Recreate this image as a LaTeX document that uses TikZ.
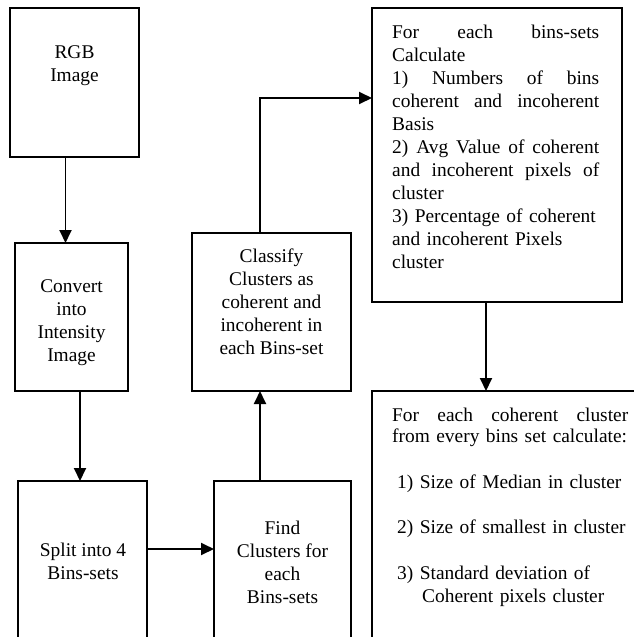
\documentclass[tikz,border=0pt]{standalone}
\usepackage{fontspec}
\setmainfont{Liberation Serif}
\usetikzlibrary{arrows.meta}
\newcommand{\fsz}{\fontsize{19.4}{23}\selectfont}
\newcommand{\jl}[2]{\leavevmode\makebox[#1][l]{#2}}
\begin{document}
\begin{tikzpicture}[x=1pt,y=-1pt,
  box/.style={draw, line width=1.9pt, inner sep=0pt, outer sep=0pt},
  txt/.style={font=\fsz, align=center, inner sep=0pt},
  ltxt/.style={font=\fsz, align=left, inner sep=0pt, anchor=base west},
  arr/.style={line width=1.9pt, -{Triangle[length=13pt,width=12pt]}}]
\useasboundingbox (0,0) rectangle (634,637);
\clip (0,0) rectangle (634,637);
% boxes
\node[box, minimum width=129pt, minimum height=149pt] (rgb) at (74.5,82.5) {};
\node[box, minimum width=113pt, minimum height=148pt] (conv) at (71.5,317) {};
\node[box, minimum width=129pt, minimum height=179pt] (split) at (82.5,570.5) {};
\node[box, minimum width=137pt, minimum height=179pt] (find) at (282.5,570.5) {};
\node[box, minimum width=159pt, minimum height=158pt] (class) at (271.5,312) {};
\node[box, minimum width=250pt, minimum height=294pt] (calc) at (497,155) {};
\node[box, minimum width=288pt, minimum height=269pt] (stat) at (516,525.5) {};
% texts
\node[txt] (rgbt) at (74.5,66) {RGB\\Image};
\node[txt] (convt) at (71.5,323) {Convert\\into\\Intensity\\Image};
\node[txt] (classt) at (271.5,302) {Classify\\Clusters as\\coherent and\\incoherent in\\each Bins-set};
\node[txt] (splitt) at (83,561) {Split into 4\\Bins-sets};
\node[txt] (findt) at (282.5,562) {Find\\Clusters for\\each\\Bins-sets};
\node[ltxt, text width=220pt] (calct) at (392,38.5) {%
\jl{207pt}{For\hfill each\hfill bins-sets}\\
Calculate\\
\jl{207pt}{1)\hfill Numbers\hfill of\hfill bins}\\
\jl{207pt}{coherent\hfill and\hfill incoherent}\\
Basis\\
\jl{207pt}{2)\hfill Avg\hfill Value\hfill of\hfill coherent}\\
\jl{207pt}{and\hfill incoherent\hfill pixels\hfill of}\\
cluster\\
3) Percentage of coherent\\
and incoherent Pixels\\
cluster};
\node[ltxt, text width=300pt] (statt) at (392,421) {%
\jl{236pt}{For\hfill each\hfill coherent\hfill cluster}\\[-2pt]
from every bins set calculate:\\[23pt]
\hspace*{5pt}1) Size of Median in cluster\\[22pt]
\hspace*{5pt}2) Size of smallest in cluster\\[23pt]
\hspace*{5pt}3) Standard deviation of\\
\hspace*{30pt}Coherent pixels cluster};
% connectors
\draw[arr] ([xshift=-9pt]rgb.south) -- ([xshift=-9pt]rgb.south |- conv.north);
\draw[arr] ([xshift=8.5pt]conv.south) -- ([xshift=8.5pt]conv.south |- split.north);
\draw[arr] ([yshift=21.5pt]split.east) -- ([yshift=21.5pt]split.east -| find.west);
\draw[arr] ([xshift=-22.5pt]find.north) -- ([xshift=-22.5pt]find.north |- class.south);
\draw[arr] ([xshift=-11.5pt]class.north) |- ([yshift=57pt]calc.west);
\draw[arr] ([xshift=-11pt]calc.south) -- ([xshift=-11pt]calc.south |- stat.north);
\end{tikzpicture}
\end{document}
